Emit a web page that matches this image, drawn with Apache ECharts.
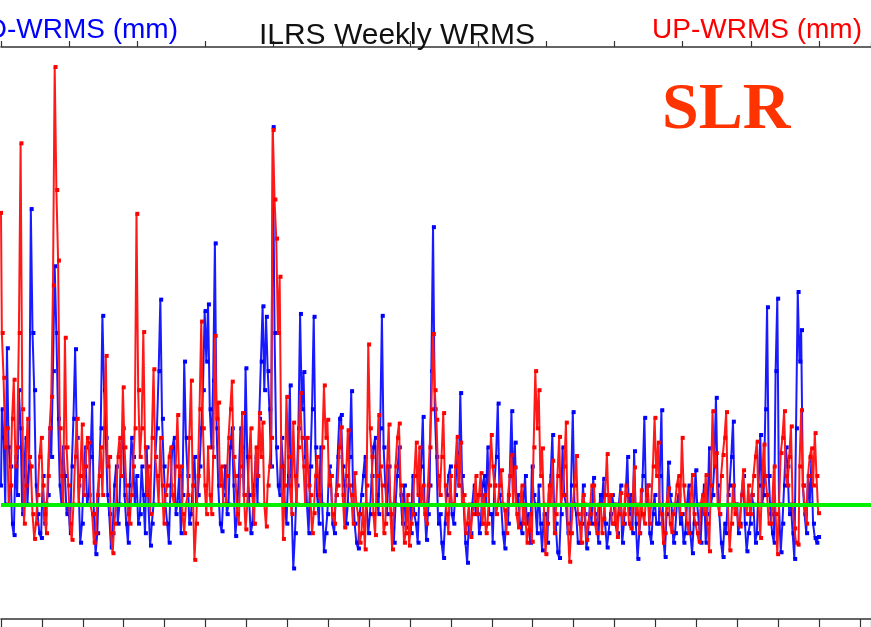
<!DOCTYPE html>
<html>
<head>
<meta charset="utf-8">
<title>ILRS Weekly WRMS</title>
<script src="https://cdn.jsdelivr.net/npm/echarts@6/dist/echarts.min.js"></script>
<style>
  html, body { margin: 0; padding: 0; background: #fff; }
  #chart { width: 871px; height: 627px; }
</style>
</head>
<body>
<div id="chart"></div>
<script>
'use strict';

// weekly solutions, read every 1/40 year starting 1995.0
var startYear = 1995;
var step = 0.025;

// 3D-WRMS (mm), blue
var wrms3d = [
  14, 22, 19, 12, 28.4, 18, 16, 10, 8.8, 17, 13, 24, 20, 11, 15, 19, 12, 16, 43, 30, 24, 14, 11, 9, 8.5, 15, 10, 12, 13, 20, 17, 26, 37, 30, 21, 14, 12, 18, 15, 11,
  12, 9, 16, 21, 28.3, 19, 14, 8, 10, 15, 18, 12, 13, 17, 22.6, 11, 6.8, 9, 15, 20, 31.8, 24, 19, 13, 11, 7.5, 9, 14, 16, 10, 12, 18, 20, 13, 10, 8, 14, 19, 17, 12,
  15, 10, 11, 16, 13, 9, 18, 12, 7.7, 10, 12, 17, 20, 26, 33.5, 21, 16, 12, 10, 8, 14, 18, 19, 11, 12, 15, 9, 13, 27, 19, 15, 10, 11, 14, 17, 12, 13, 16, 20, 24,
  32.3, 27, 33, 22, 18, 25, 39.4, 20, 14, 10, 9.2, 13, 16, 11, 12, 18, 20, 14, 8.7, 11, 15, 20, 18, 13, 26.3, 17, 13, 9, 10, 14, 17, 12, 21, 27, 32.8, 24, 31.7, 26, 22, 16,
  51.6, 30, 18, 14, 13, 19, 16, 12, 10, 15, 24.5, 12, 5.3, 9, 14, 20, 32, 22, 25.9, 17, 12, 9, 16, 22, 31.7, 18, 13, 10, 18, 12, 7.1, 9, 11, 16, 15, 10, 9, 13, 17, 21,
  21.4, 16, 14, 10, 12, 17, 23.9, 14, 10, 8, 7.4, 11, 13, 15, 17, 12, 9, 11, 15, 18, 19, 13, 11, 20, 31.8, 18, 14, 11, 16, 12, 9.5, 8, 12, 15, 18, 13, 10, 14, 9.6, 12,
  12, 9, 15, 11, 10, 8, 13, 16, 21.2, 12, 8.3, 11, 14, 26, 41.1, 22, 17, 10, 11, 8, 6.4, 10, 13, 15, 16, 11, 10, 13, 17.4, 14, 23.7, 15, 12, 8, 5.9, 10, 9, 12, 14, 11,
  13, 9, 10, 14, 15, 12, 18, 11, 11, 8, 14, 17, 22.6, 13, 12, 9, 7.4, 11, 10, 15, 21.8, 14, 18.5, 12, 13, 10, 9, 12, 15, 10, 11, 8, 16, 13, 12, 9, 14, 10, 7.2, 11,
  11, 8, 13, 15, 19.3, 12, 10, 7, 6.4, 11, 18, 13, 12, 9, 9, 14, 21.7, 12, 11, 8, 8, 10, 14, 11, 7.4, 9, 12, 10, 14.8, 11, 10, 8, 13, 12, 14.7, 10, 7.5, 9, 11, 13,
  12, 10, 9, 12, 14, 8, 10, 13, 17, 11, 13, 9, 17.6, 10, 6.3, 9, 11, 15, 21.1, 12, 14, 9, 8, 11, 13, 10, 10, 15, 21.9, 9, 6.5, 11, 16.4, 13, 12, 8, 9, 12, 13, 10,
  11, 8, 9, 12, 14, 9, 6.9, 10, 15.6, 12, 10, 8, 12, 14, 8, 11, 17.9, 12, 13, 16, 23.2, 14, 11, 8, 6.5, 10, 9, 13, 14, 17, 20.7, 12, 12, 9, 10, 13, 15, 10, 7.1, 9,
  10, 13, 12, 8, 9, 14, 19.3, 12, 13, 22, 32.7, 15, 11, 9, 8, 26, 33.6, 12, 7, 10, 14, 18, 16, 11, 12, 9, 6.3, 20, 34.3, 27, 30.3, 14, 11, 9, 15, 12, 16.6, 10, 8.5, 8, 8.6
];

// UP-WRMS (mm), red
var wrmsUp = [
  42.6, 30, 25.3, 18, 20, 12, 14, 21, 25.1, 16, 18, 30, 49.9, 22, 10, 14, 21, 17, 16, 11, 8.4, 10, 13, 17, 19, 14, 11, 9, 15, 20, 23.3, 35, 57.9, 45, 37.6, 20, 15, 12, 29.5, 18,
  14, 10, 8.3, 12, 17, 21, 12, 15, 20.4, 13, 16, 19, 18.5, 12, 11, 8, 9, 13, 15, 18, 13, 20, 27.6, 16, 17, 9, 6.9, 10, 12, 17, 19, 15, 24.3, 18, 14, 11, 10, 13, 16, 20,
  42.5, 24, 17, 20, 30.1, 18, 13, 16, 11, 19, 26.2, 17, 15, 12, 19, 14, 10, 13, 14, 17, 18, 13, 12, 16, 21.4, 15, 16, 11, 9, 12, 13, 19, 25, 14, 6.2, 10, 15, 22, 31.2, 20,
  14, 11, 18, 13, 11, 17, 29.7, 21, 22.7, 14, 16, 12, 12, 15, 19, 22, 24.9, 17, 15, 11, 10, 16, 21.6, 13, 9.4, 12, 17, 20, 13, 10, 18, 15, 21.6, 17, 20.6, 12, 9.7, 14, 16, 19,
  51.3, 44, 39.9, 30, 35.9, 16, 8.4, 14, 23.3, 17, 14, 11, 20.6, 15, 12, 18, 23.7, 19, 16, 12, 19, 14, 13, 9, 11.1, 15, 17, 13, 12, 18, 24.5, 19, 20.9, 14, 15, 11, 10, 13, 14, 18,
  20.1, 13, 9.6, 15, 19.8, 14, 13, 10, 15.3, 12, 11, 8, 9, 12, 7.3, 14, 28.8, 20, 17, 11, 8.8, 15, 21.4, 16, 14, 9, 10, 16, 20.4, 11, 7.3, 12, 16, 19, 20.5, 14, 12, 8, 9, 13,
  7.7, 10, 11, 15, 18.5, 13, 18, 12, 14, 11, 10, 14, 18, 22, 29.9, 24, 20.9, 15, 13, 17, 21.6, 14, 11, 9, 15, 12, 12, 16, 19.1, 14, 18.5, 12, 13, 9, 10, 12, 8.6, 11, 12, 15,
  11, 13, 15.3, 10, 13, 9, 10, 14, 19.3, 16, 14, 11, 12, 14, 15.6, 12, 11.4, 9, 13, 15, 17.2, 12, 15.9, 11, 9.6, 12, 14, 10, 12, 8, 9.3, 11, 8.1, 18, 26, 20, 24, 15, 17.9, 12,
  6.8, 10, 14, 12, 16.6, 9, 11, 15, 19.1, 12, 13, 16, 20.6, 10, 6, 9, 12, 14, 17.1, 11, 10, 8, 13, 12, 8.3, 10, 11, 14, 14, 10, 9, 12, 12, 9, 10.5, 13, 17.3, 12, 13, 10,
  10, 12, 8.6, 11, 13.2, 10, 11, 14, 13, 10, 9.5, 12, 15.9, 11, 12, 9, 13.5, 11, 10, 13, 14, 10, 12, 16, 21.1, 15, 18.5, 12, 11, 8, 9, 12, 13.7, 10, 9.1, 11, 12, 14, 15, 11,
  19, 14, 12, 10, 9, 12, 15.1, 11, 10, 9, 8.1, 12, 13, 11, 15.1, 10, 7.1, 14, 21.8, 16, 17.4, 12, 11, 15, 17.2, 19, 21.7, 12, 7.2, 10, 14, 11, 12, 10, 9.7, 13, 15.6, 12, 11, 14,
  11, 13, 15, 17, 18.6, 12, 8.5, 14, 18.3, 15, 13, 10, 10, 12, 16, 11, 6.8, 12, 17.4, 19, 21.8, 15, 14, 17, 20.2, 12, 9.5, 8, 7.8, 16, 21.9, 14, 12, 10, 15, 17, 17.9, 14, 19.5, 15, 11.1
];

// green reference level (mm)
var refLevel = 12;

function toPoints(vals) {
  var out = [];
  for (var i = 0; i < vals.length; i++) {
    out.push([+(startYear + i * step).toFixed(3), vals[i]]);
  }
  return out;
}

var chart = echarts.init(document.getElementById('chart'), null, { renderer: 'canvas' });

var axisLine = { show: true, lineStyle: { color: '#333', width: 1.5 } };

var option = {
  backgroundColor: '#fff',
  animation: false,
  grid: { left: 1, right: 0, top: 47, bottom: 8 },
  xAxis: [
    {
      type: 'value', position: 'bottom',
      min: 1995, max: 2007.762, interval: 0.6,
      axisLine: axisLine,
      axisTick: { show: true, inside: false, length: 8, lineStyle: { color: '#333', width: 1.2 } },
      axisLabel: { show: false },
      splitLine: { show: false }
    },
    {
      type: 'value', position: 'top',
      min: 1995, max: 2007.762, interval: 1,
      axisLine: axisLine,
      axisTick: { show: true, inside: false, length: 6, lineStyle: { color: '#333', width: 1.2 } },
      axisLabel: { show: false },
      splitLine: { show: false }
    }
  ],
  yAxis: {
    type: 'value', min: 0, max: 60, show: false
  },
  series: [
    {
      name: '3D-WRMS',
      type: 'line',
      step: 'middle',
      data: toPoints(wrms3d),
      showAllSymbol: true,
      symbol: 'rect', symbolSize: 4,
      lineStyle: { color: '#1a1aff', width: 2 },
      itemStyle: { color: '#0000ff' },
      z: 2
    },
    {
      name: 'UP-WRMS',
      type: 'line',
      step: 'middle',
      data: toPoints(wrmsUp),
      showAllSymbol: true,
      symbol: 'rect', symbolSize: 4,
      lineStyle: { color: '#ff1a1a', width: 2 },
      itemStyle: { color: '#ff0000' },
      z: 3,
      markLine: {
        silent: true, symbol: 'none', label: { show: false },
        lineStyle: { color: '#00f000', width: 4, type: 'solid' },
        data: [{ yAxis: refLevel }],
        z: 5
      }
    }
  ],
  graphic: [
    {
      type: 'text', x: 178, y: 30, z: 10,
      style: { text: '3D-WRMS (mm)', font: '28px "Liberation Sans", Arial', fill: '#0000ff', align: 'right', verticalAlign: 'middle' }
    },
    {
      type: 'text', x: 397, y: 36, z: 10,
      style: { text: 'ILRS Weekly WRMS', font: '30px "Liberation Sans", Arial', fill: '#111', align: 'center', verticalAlign: 'middle' }
    },
    {
      type: 'text', x: 862, y: 30, z: 10,
      style: { text: 'UP-WRMS (mm)', font: '28px "Liberation Sans", Arial', fill: '#ff0000', align: 'right', verticalAlign: 'middle' }
    },
    {
      type: 'text', x: 662, y: 111, z: 10,
      style: { text: 'SLR', font: 'bold 66px "Liberation Serif", "Times New Roman"', fill: '#ff3300', align: 'left', verticalAlign: 'middle' }
    }
  ]
};

chart.setOption(option);
</script>
</body>
</html>
